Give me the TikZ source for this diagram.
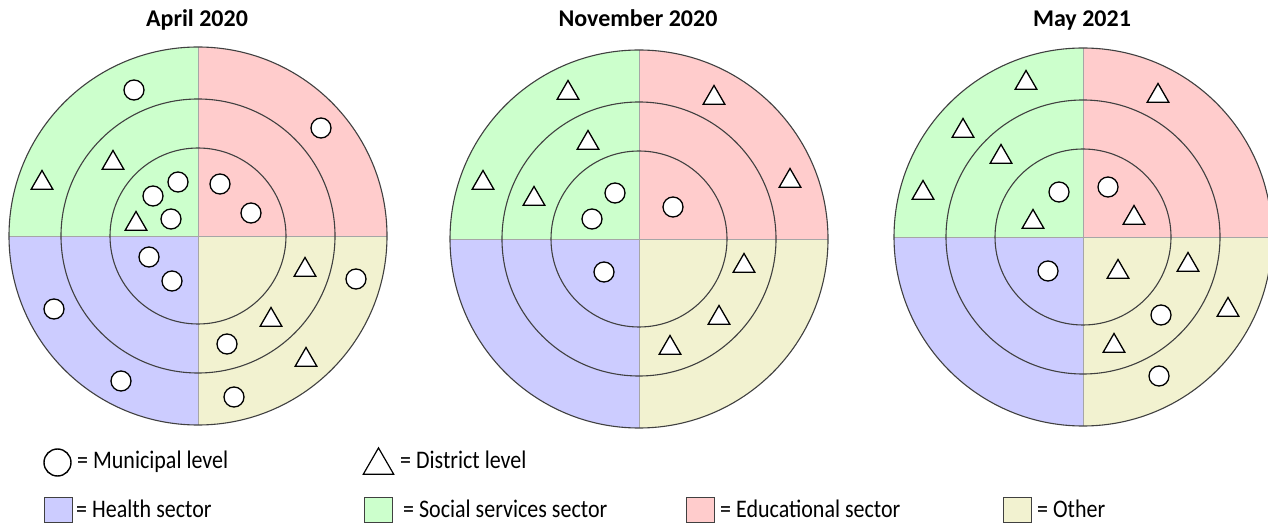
\documentclass[tikz,border=0pt]{standalone}
\usepackage{graphicx}
\usepackage{fontspec}
\setmainfont{Carlito}
\usepackage{tikz}
\usetikzlibrary{shapes.geometric}
\usetikzlibrary{positioning}
\definecolor{socgreen}{RGB}{204,255,204}
\definecolor{edupink}{RGB}{255,204,204}
\definecolor{hlthblue}{RGB}{204,204,255}
\definecolor{othyellow}{RGB}{242,242,208}
\definecolor{ringgray}{RGB}{64,64,64}
\newcommand{\tallt}[1]{\scalebox{1}[1.15]{#1}}

\begin{document}
\begin{tikzpicture}
    [
    x=1pt,y=-1pt,
    muni/.style={circle,draw,fill=white,line width=1.3pt,inner sep=0pt,minimum size=20pt},
    dist/.style={regular polygon,regular polygon sides=3,draw,fill=white,line width=1.3pt,inner sep=0pt,minimum size=25pt,yshift=-3pt},
    ring/.style={draw=ringgray,line width=1.1pt},
    divider/.style={draw=gray!70,line width=0.8pt},
    title/.style={font=\bfseries\fontsize{24}{28}\selectfont,anchor=base,inner sep=0pt},
    lab/.style={font=\fontsize{22}{26}\selectfont,anchor=base west,inner sep=0pt},
    key/.style={draw=ringgray,line width=1pt,minimum width=28pt,minimum height=25pt,inner sep=0pt},
    ]
    \useasboundingbox (0,0) rectangle (1268,526);
    \clip (0,0) rectangle (1268,526);

    % the three target charts
    \foreach \cx/\cy/\ttl [count=\i] in {198/236/{April 2020},639/239/{November 2020},1083/237/{May 2021}} {
      \coordinate (c\i) at (\cx,\cy);
      \begin{scope}
        \clip (c\i) circle[radius=189];
        \fill[socgreen] (c\i) rectangle ++(-189,-189);
        \fill[edupink] (c\i) rectangle ++(189,-189);
        \fill[hlthblue] (c\i) rectangle ++(-189,189);
        \fill[othyellow] (c\i) rectangle ++(189,189);
      \end{scope}
      \draw[divider] (c\i) ++(-189,0) -- ++(378,0);
      \draw[divider] (c\i) ++(0,-189) -- ++(0,378);
      \draw[ring] (c\i) circle[radius=88] (c\i) circle[radius=137] (c\i) circle[radius=189];
      \node[title] (t\i) at (\cx-1,27) {\ttl};
    }

    % municipal level
    \foreach \p [count=\k] in {(134,90),(321,128),(178,182),(153,196),(171,219),(220,184),(251,213),
        (149,257),(172,281),(356,279),(54,309),(227,344),(121,381),(234,397),
        (615,193),(592,219),(673,207),(604,272),
        (1059,192),(1108,187),(1048,271),(1161,315),(1159,376)}
      \node[muni] (m\k) at \p {};

    % district level
    \foreach \p [count=\k] in {(42,180),(113,160),(136,221),(305,267),(271,317),(306,357),
        (568,90),(714,95),(588,140),(483,180),(534,196),(790,178),(744,263),(719,315),(670,345),
        (1026,80),(963,128),(1001,154),(923,190),(1033,219),(1134,215),(1158,93),
        (1118,269),(1188,262),(1228,307),(1114,343)}
      \node[dist] (d\k) at \p {};

    % legend
    \node (mkey) at (57.5,462.5) [circle,draw,line width=1.4pt,inner sep=0pt,minimum size=27pt] {};
    \node (dkey) at (378.5,461) [regular polygon,regular polygon sides=3,draw,line width=1.2pt,inner sep=0pt,minimum size=35pt,yshift=-4.4pt] {};
    \node (hkey) at (58.5,510) [key,fill=hlthblue] {};
    \node (skey) at (378.5,510) [key,fill=socgreen] {};
    \node (ekey) at (700,510) [key,fill=edupink] {};
    \node (okey) at (1017.5,510) [key,fill=othyellow] {};
    \node (mlab) at (77,468) [lab] {\tallt{= Municipal level}};
    \node (dlab) at (400,468) [lab] {\tallt{= District level}};
    \node (hlab) at (76,517) [lab] {\tallt{= Health sector}};
    \node (slab) at (403,517) [lab] {\tallt{= Social services sector}};
    \node (elab) at (720,517) [lab] {\tallt{= Educational sector}};
    \node (olab) at (1037,517) [lab] {\tallt{= Other}};
  \end{tikzpicture}
\end{document}
